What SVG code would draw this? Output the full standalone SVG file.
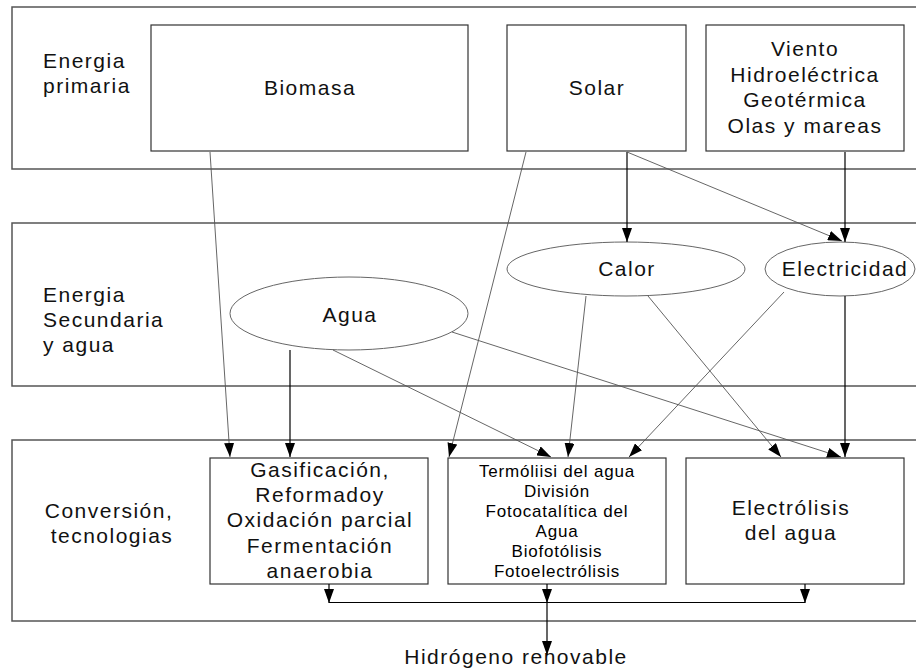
<svg xmlns="http://www.w3.org/2000/svg" width="916" height="670" viewBox="0 0 916 670">
<defs>
<marker id="ah" markerUnits="userSpaceOnUse" markerWidth="14" markerHeight="10" refX="14" refY="5" orient="auto">
<path d="M0,0 L14,5 L0,10 z" fill="#000"/>
</marker>
</defs>
<style>
.band{fill:none;stroke:#555;stroke-width:1.5}
.box{fill:#fff;stroke:#333;stroke-width:1.2}
.ell{fill:#fff;stroke:#666;stroke-width:1}
.t{font-family:"Liberation Sans",Arial,sans-serif;font-size:21px;letter-spacing:1.5px;fill:#111}
.c{text-anchor:middle}
.s{font-family:"Liberation Sans",Arial,sans-serif;font-size:17px;letter-spacing:0.8px;fill:#000;text-anchor:middle}
.k{fill:none;stroke:#000;stroke-width:1.2}
.g{fill:none;stroke:#555;stroke-width:0.9}
.a{marker-end:url(#ah)}
</style>
<rect width="916" height="670" fill="#fff"/>
<g id="bands">
<rect class="band" x="12" y="7" width="930" height="162"/>
<rect class="band" x="12" y="223" width="930" height="163"/>
<rect class="band" x="12" y="440" width="930" height="181"/>
<text class="t" x="43" y="68">Energia</text>
<text class="t" x="43" y="93">primaria</text>
<text class="t" x="43" y="302">Energia</text>
<text class="t" x="43" y="327">Secundaria</text>
<text class="t" x="43" y="352">y agua</text>
<text class="t c" x="109" y="518">Conversión,</text>
<text class="t c" x="112" y="543">tecnologias</text>
</g>
<g id="biomasa">
<rect class="box" x="151" y="25" width="317" height="126"/>
<text class="t c" x="310" y="95">Biomasa</text>
</g>
<g id="solar">
<rect class="box" x="507" y="25" width="179" height="126"/>
<text class="t c" x="597" y="95">Solar</text>
</g>
<g id="viento">
<rect class="box" x="706" y="25" width="198" height="126"/>
<text class="t c" x="805" y="56">Viento</text>
<text class="t c" x="805" y="82">Hidroeléctrica</text>
<text class="t c" x="805" y="107">Geotérmica</text>
<text class="t c" x="805" y="133">Olas y mareas</text>
</g>
<g id="agua">
<ellipse class="ell" cx="349" cy="313.5" rx="119" ry="36.5"/>
<text class="t c" x="350" y="322">Agua</text>
</g>
<g id="calor">
<ellipse class="ell" cx="626" cy="269" rx="119" ry="27"/>
<text class="t c" x="627" y="276">Calor</text>
</g>
<g id="electricidad">
<ellipse class="ell" cx="840" cy="269" rx="75" ry="27"/>
<text class="t c" x="845" y="276">Electricidad</text>
</g>
<g id="gasificacion">
<rect class="box" x="210" y="458" width="218" height="126"/>
<text class="t c" x="320" y="477">Gasificación,</text>
<text class="t c" x="320" y="502">Reformadoy</text>
<text class="t c" x="320" y="527">Oxidación parcial</text>
<text class="t c" x="320" y="553">Fermentación</text>
<text class="t c" x="320" y="578">anaerobia</text>
</g>
<g id="termolisis">
<rect class="box" x="448" y="458" width="218" height="126"/>
<text class="s" x="557" y="477">Termóliisi del agua</text>
<text class="s" x="557" y="497">División</text>
<text class="s" x="557" y="517">Fotocatalítica del</text>
<text class="s" x="557" y="537">Agua</text>
<text class="s" x="557" y="557">Biofotólisis</text>
<text class="s" x="557" y="577">Fotoelectrólisis</text>
</g>
<g id="electrolisis">
<rect class="box" x="686" y="458" width="218" height="126"/>
<text class="t c" x="791" y="515">Electrólisis</text>
<text class="t c" x="791" y="540">del agua</text>
</g>
<g id="hidrogeno">
<text class="t c" x="516" y="664">Hidrógeno renovable</text>
</g>
<g id="connectors">
<path class="g a" d="M210,152 L230,457"/>
<path class="k a" d="M290,350 L290,457"/>
<path class="g a" d="M526,152 L449,457"/>
<path class="k a" d="M627,152 L627,242"/>
<path class="g a" d="M627,152 L842,241"/>
<path class="k a" d="M845,152 L845,242"/>
<path class="g a" d="M333,350 L551,457"/>
<path class="g a" d="M452,332 L841,457"/>
<path class="g a" d="M586,296 L568,457"/>
<path class="g a" d="M648,296 L781,457"/>
<path class="g a" d="M784,292 L629,457"/>
<path class="k a" d="M845,296 L845,457"/>
<path class="k a" d="M329,584 L329,603"/>
<path class="k a" d="M547,584 L547,603"/>
<path class="k a" d="M805,584 L805,603"/>
<path class="k" d="M329,602.5 L805,602.5"/>
<path class="k a" d="M547,602 L547,655"/>
</g>
</svg>
